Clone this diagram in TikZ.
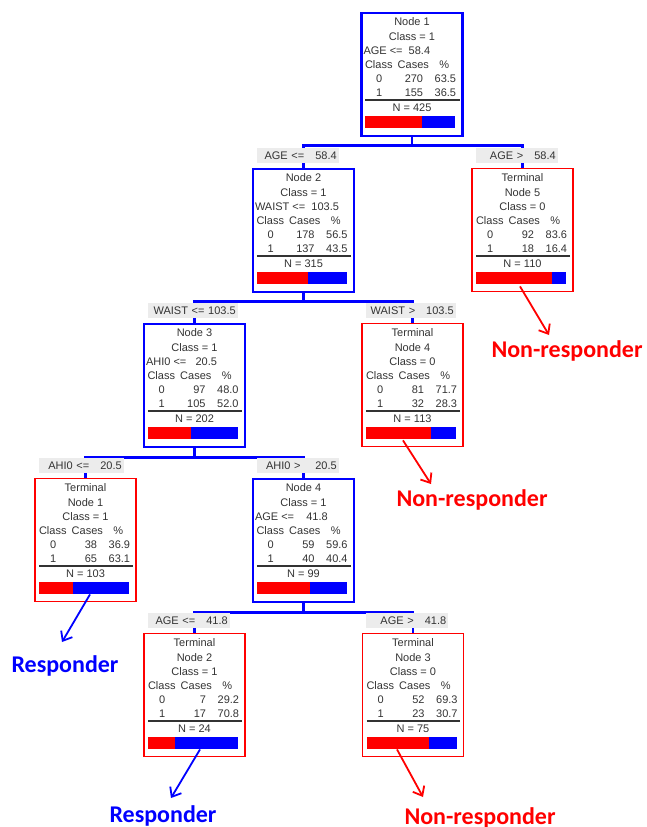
\documentclass[tikz,border=0pt]{standalone}
\usepackage{fontspec}
\setmainfont{Liberation Sans}
\newfontfamily\outfont{Carlito}
\usetikzlibrary{arrows.meta}
\definecolor{cblue}{RGB}{0,0,255}
\definecolor{cred}{RGB}{255,0,0}
\tikzset{
  splitnode/.style={draw=cblue, line width=2.4pt, minimum width=101pt, minimum height=123pt, anchor=north, inner sep=0pt},
  termnode/.style={draw=cred, line width=1.4pt, minimum width=101pt, minimum height=123pt, anchor=north, inner sep=0pt},
  txt/.style={font=\fontsize{11}{13}\selectfont, text=black!80, inner sep=0pt, text height=8pt, text depth=0pt},
  cond/.style={fill=gray!15, font=\fontsize{11}{13}\selectfont, text=black!80, anchor=west, inner xsep=2pt, inner ysep=0pt,
    minimum height=15pt, text width=78pt, align=right, text height=8pt, text depth=0pt},
  conn/.style={draw=cblue, line width=2.4pt},
  outcome/.style={font=\outfont\bfseries\fontsize{24}{28}\selectfont, inner sep=0pt, anchor=base},
  outarrow/.style={line width=1.8pt, -{Straight Barb[length=8pt,width=13pt]}},
}
\newcommand{\splitbox}[5]{%
  \node[splitnode] (#1) at #2 {};
  \node[txt] at ([yshift=-9]#1.north) {Node #3};
  \node[txt] at ([yshift=-24]#1.north) {Class = #4};
  \node[txt, anchor=west] at ([xshift=3,yshift=-38]#1.north west) {#5};
}
\newcommand{\termbox}[4]{%
  \node[termnode] (#1) at #2 {};
  \node[txt] at ([yshift=-9]#1.north) {Terminal};
  \node[txt] at ([yshift=-24]#1.north) {Node #3};
  \node[txt] at ([yshift=-38]#1.north) {Class = #4};
}
\newcommand{\counts}[7]{%
  \node[txt] at ([xshift=18.5,yshift=-52]#1.north west) {Class};
  \node[txt] at ([xshift=53,yshift=-52]#1.north west) {Cases};
  \node[txt] at ([xshift=84,yshift=-52]#1.north west) {\%};
  \node[txt] at ([xshift=19,yshift=-66]#1.north west) {0};
  \node[txt, anchor=east] at ([xshift=63,yshift=-66]#1.north west) {#2};
  \node[txt, anchor=east] at ([xshift=96,yshift=-66]#1.north west) {#3};
  \node[txt] at ([xshift=19,yshift=-80]#1.north west) {1};
  \node[txt, anchor=east] at ([xshift=63,yshift=-80]#1.north west) {#4};
  \node[txt, anchor=east] at ([xshift=96,yshift=-80]#1.north west) {#5};
  \draw[line width=1.3pt, black!80] ([xshift=5,yshift=-88]#1.north west) -- ([xshift=-4,yshift=-88]#1.north east);
  \node[txt] at ([yshift=-95]#1.north) {N = #6};
  \fill[cblue] ([xshift=5,yshift=-104]#1.north west) rectangle ++(90,12);
  \fill[cred] ([xshift=5,yshift=-104]#1.north west) rectangle ++({#7*90},12);
}
\begin{document}
\begin{tikzpicture}[x=1pt, y=-1pt]
      \useasboundingbox (0,0) rectangle (647,827);
      %
      \splitbox{n1}{(412,12)}{1}{1}{AGE <=\ \ 58.4}
      \counts{n1}{270}{63.5}{155}{36.5}{425}{0.635}
      \splitbox{n2}{(303.5,168)}{2}{1}{WAIST <=\ \ 103.5}
      \counts{n2}{178}{56.5}{137}{43.5}{315}{0.565}
      \termbox{t5}{(522.5,168)}{5}{0}
      \counts{t5}{92}{83.6}{18}{16.4}{110}{0.836}
      \splitbox{n3}{(194.5,323)}{3}{1}{AHI0 <=\ \ \ 20.5}
      \counts{n3}{97}{48.0}{105}{52.0}{202}{0.48}
      \termbox{t4}{(412.5,323)}{4}{0}
      \counts{t4}{81}{71.7}{32}{28.3}{113}{0.717}
      \termbox{t1}{(85.5,478)}{1}{1}
      \counts{t1}{38}{36.9}{65}{63.1}{103}{0.369}
      \splitbox{n4}{(303.5,478)}{4}{1}{AGE <=\ \ \ \ 41.8}
      \counts{n4}{59}{59.6}{40}{40.4}{99}{0.596}
      \termbox{t2}{(194.5,633)}{2}{1}
      \counts{t2}{7}{29.2}{17}{70.8}{24}{0.292}
      \termbox{t3}{(413,633)}{3}{0}
      \counts{t3}{52}{69.3}{23}{30.7}{75}{0.693}
      %
      \coordinate (h1) at ([yshift=-8]n1.south);
      \coordinate (h2) at ([yshift=-8]n2.south);
      \coordinate (h3) at ([yshift=-9]n3.south);
      \coordinate (h4) at ([yshift=-9]n4.south);
      \draw[conn] (n1.south) -- (h1);
      \draw[conn] (n2.north) |- (h1) -| (t5.north);
      \draw[conn] (n2.south) -- (h2);
      \draw[conn] (n3.north) |- (h2) -| (t4.north);
      \draw[conn] (n3.south) -- (h3);
      \draw[conn] (t1.north) |- (h3) -| (n4.north);
      \draw[conn] (n4.south) -- (h4);
      \draw[conn] (t2.north) |- (h4) -| (t3.north);
      %
      \node[cond] (c2) at ([xshift=-47,yshift=12.5]n2.north) {AGE <=\ \ \ 58.4};
      \node[cond] (c5) at ([xshift=-47,yshift=12.5]t5.north) {AGE >\ \ \ 58.4};
      \node[cond, text width=86pt] (c3) at ([xshift=-47,yshift=12.5]n3.north) {WAIST <=\ 103.5};
      \node[cond, text width=86pt] (c4) at ([xshift=-47,yshift=12.5]t4.north) {WAIST >\ \ \ 103.5};
      \node[cond, text width=81pt] (c1) at ([xshift=-47,yshift=12.5]t1.north) {AHI0 <=\ \ \ 20.5};
      \node[cond] (c6) at ([xshift=-47,yshift=12.5]n4.north) {AHI0 >\ \ \ \ 20.5};
      \node[cond] (c7) at ([xshift=-47,yshift=12.5]t2.north) {AGE <=\ \ \ 41.8};
      \node[cond] (c8) at ([xshift=-47,yshift=12.5]t3.north) {AGE >\ \ \ 41.8};
      %
      \node[outcome, text=cred] (o5) at (567,357) {Non-responder};
      \node[outcome, text=cred] (o4) at (472,506) {Non-responder};
      \node[outcome, text=cblue] (o1) at (65,672) {Responder};
      \node[outcome, text=cblue] (o2) at (163,822) {Responder};
      \node[outcome, text=cred] (o3) at (480,824) {Non-responder};
      %
      \draw[outarrow, cred] ([xshift=-2.5,yshift=6]t5.south) -- ([xshift=-18,yshift=22]o5.base);
      \draw[outarrow, cred] ([xshift=-9.5,yshift=7]t4.south) -- ([xshift=-41,yshift=22]o4.base);
      \draw[outarrow, cblue] ([xshift=4.5,yshift=8]t1.south) -- ([xshift=-3,yshift=30]o1.base);
      \draw[outarrow, cblue] ([xshift=5.5,yshift=8]t2.south) -- ([xshift=8,yshift=24]o2.base);
      \draw[outarrow, cred] ([xshift=-16,yshift=8]t3.south) -- ([xshift=-57,yshift=27]o3.base);
      %
    \end{tikzpicture}
\end{document}
